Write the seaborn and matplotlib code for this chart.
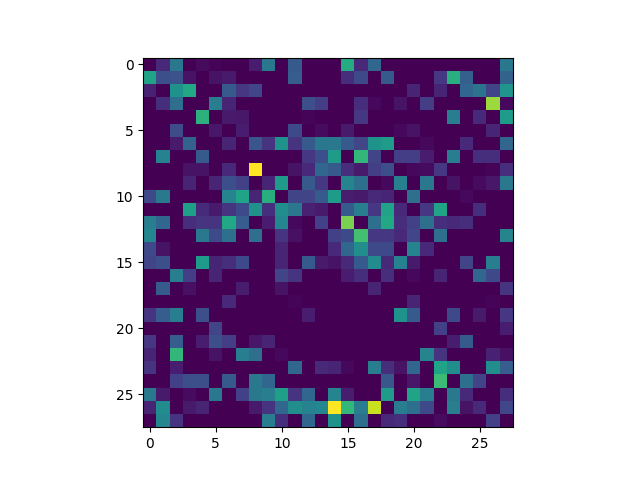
import numpy as np
import matplotlib
matplotlib.use("Agg")
import matplotlib.pyplot as plt
import seaborn as sns

row_00 = [0,11,40,0,3,1,0,0,8,40,0,28,0,0, 0,61,11,33,0,0,0,0,0,0,0,0,0,40]
row_01 = [58,24,25,5,0,5,7,0,0,0,0,29,0,0, 0,13,22,0,28,0,0,0,16,63,30,0,0,31]
row_02 = [9,0,51,60,0,0,28,16,21,0,0,0,0,0, 0,0,0,0,0,0,10,0,10,0,33,38,20,52]
row_03 = [0,13,36,0,0,42,10,0,0,0,0,0,24,18, 0,0,13,2,0,5,0,18,0,0,0,0,85,2]
row_04 = [0,0,0,0,64,0,7,6,0,0,0,0,1,0, 0,0,16,0,0,0,0,0,0,42,0,11,0,55]
row_05 = [0,0,23,0,0,6,0,8,0,0,0,22,0,3, 0,7,0,0,0,2,5,0,0,0,0,0,10,0]
row_06 = [0,0,7,31,0,0,10,0,26,15,51,15,28,40, 40,28,21,51,55,0,0,2,0,0,11,0,0,33]
row_07 = [0,44,0,0,28,0,0,0,0,0,0,0,16,24, 55,0,66,20,0,18,18,8,0,42,0,13,13,0]
row_08 = [0,0,0,5,5,0,11,0,100,0,0,5,11,33, 28,13,7,18,24,0,2,3,16,0,0,0,1,13]
row_09 = [0,0,0,10,0,10,24,19,0,10,55,0,28,16, 0,45,36,0,2,43,0,40,0,5,0,3,6,40]
row_10 = [22,40,0,0,0,0,45,58,10,63,0,20,20,28, 55,8,7,11,10,0,36,0,0,0,2,0,0,0]
row_11 = [0,0,0,56,12,7,15,22,51,13,49,40,9,7, 0,28,42,16,58,11,0,16,58,0,0,13,0,0]
row_12 = [42,33,0,13,15,15,60,29,0,8,46,2,0,19, 0,80,0,36,60,13,19,36,13,11,13,0,0,0]
row_13 = [46,0,0,0,40,22,36,0,36,0,15,4,0,0, 19,22,70,16,16,11,21,0,36,0,0,0,0,45]
row_14 = [22,5,0,0,0,0,0,0,0,0,10,0,0,0, 11,33,49,22,22,0,45,11,0,0,0,0,0,0]
row_15 = [20,24,0,0,55,10,13,22,0,0,10,0,28,7, 5,11,28,48,11,44,7,0,0,0,20,0,42,0]
row_16 = [0,0,42,18,0,10,0,0,0,0,20,15,0,0, 0,8,13,0,13,0,2,0,10,0,0,33,22,0]
row_17 = [0,28,0,4,0,0,0,8,0,0,5,0,0,0, 0,0,0,10,0,0,0,0,0,0,0,0,0,15]
row_18 = [0,0,0,0,0,0,11,0,0,0,0,1,0,0, 0,0,0,0,0,0,10,0,0,0,0,0,1,0]
row_19 = [15,29,42,0,24,0,0,0,0,0,0,0,8,0, 0,0,0,0,0,51,28,0,0,22,0,7,0,16]
row_20 = [0,0,0,0,0,20,0,0,0,0,0,0,0,0, 0,0,0,0,0,0,0,0,19,0,0,0,0,8]
row_21 = [16,0,29,0,8,24,18,0,6,10,0,0,0,0, 0,0,0,0,0,0,0,0,0,8,28,0,0,0]
row_22 = [10,0,66,0,0,5,0,42,36,0,2,0,0,0, 0,0,0,0,0,0,0,45,15,0,0,0,9,4]
row_23 = [15,0,8,0,0,0,0,0,0,0,0,33,0,11, 10,2,0,42,13,5,33,0,58,49,0,0,49,29]
row_24 = [0,0,19,24,24,0,28,0,40,33,0,0,0,0, 0,0,0,0,27,0,6,0,68,0,36,20,0,0]
row_25 = [40,7,0,3,0,40,0,19,40,42,56,15,33,0, 45,8,0,0,55,0,58,42,0,40,11,0,0,13]
row_26 = [10,48,0,7,10,0,0,0,7,15,33,49,44,46, 100,66,42,92,0,42,36,22,0,42,5,11,0,21]
row_27 = [0,46,15,0,0,0,0,0,0,42,13,0,33,0, 51,0,36,0,11,13,0,0,3,0,0,0,19,0]

rows = [row_00,row_01,row_02,row_03,row_04,row_05,row_06,row_07,row_08,row_09,
        row_10,row_11,row_12,row_13,row_14,row_15,row_16,row_17,row_18,row_19,
        row_20,row_21,row_22,row_23,row_24,row_25,row_26,row_27]
tick_labels = [0, 5, 10, 15, 20, 25]

fig, ax = plt.subplots(figsize=(6.4, 4.8), dpi=100)
sns.heatmap(np.array(rows), cmap="viridis", vmin=0, vmax=100, cbar=False,
            square=True, ax=ax, linewidths=0, rasterized=True)
ticks = [t + 0.5 for t in tick_labels]
ax.set_xticks(ticks)
ax.set_xticklabels(tick_labels, rotation=0, fontsize=10)
ax.set_yticks(ticks)
ax.set_yticklabels(tick_labels, rotation=0, fontsize=10, va="center_baseline")
ax.tick_params(length=3.5, width=0.8)
for s in ax.spines.values():
    s.set_visible(True)
    s.set_linewidth(0.8)
    s.set_color("black")
fig.savefig("out.png", dpi=100)
